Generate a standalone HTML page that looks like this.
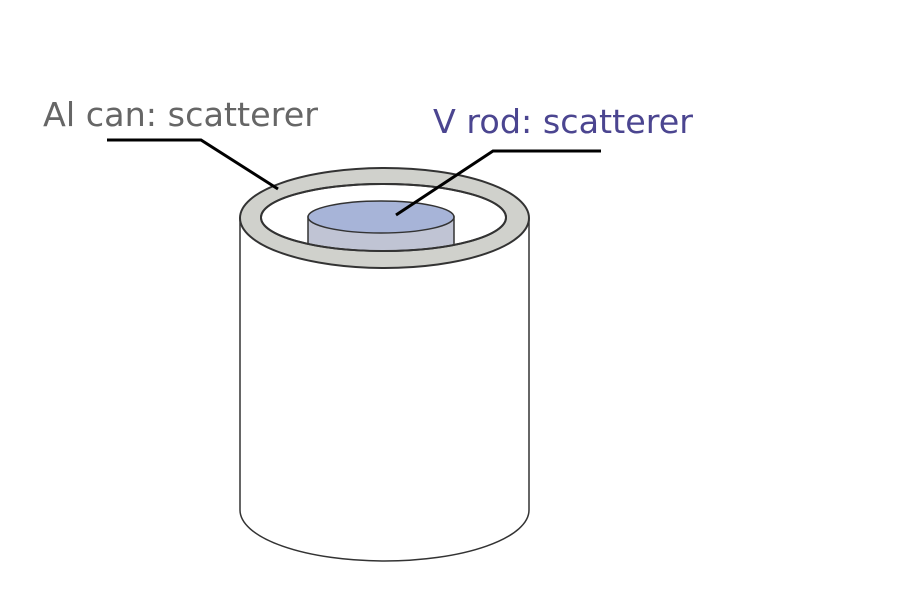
<!DOCTYPE html>
<html><head><meta charset="utf-8"><style>
html,body{margin:0;padding:0;background:#fff;width:900px;height:600px;overflow:hidden}
</style></head><body>
<svg width="900" height="600" viewBox="0 0 900 600">
  <g>
    <path d="M240,218 L240,510 A144.5,51 0 0 0 529,510 L529,218" fill="#fff" stroke="#333" stroke-width="1.5"/>
    <ellipse cx="384.5" cy="218" rx="144.5" ry="50" fill="#d0d1cc" stroke="#333" stroke-width="2"/>
    <ellipse cx="383.5" cy="217.5" rx="122.5" ry="33.5" fill="#fff" stroke="#333" stroke-width="2"/>
  </g>
  <g>
    <clipPath id="inner"><ellipse cx="383.5" cy="217.5" rx="121.5" ry="32.5"/></clipPath>
    <g clip-path="url(#inner)">
      <path d="M308,217 L308,260 L454,260 L454,217 Z" fill="#c0c4d4" stroke="#333" stroke-width="1.5"/>
    </g>
    <ellipse cx="383.5" cy="217.5" rx="122.5" ry="33.5" fill="none" stroke="#333" stroke-width="2"/>
    <ellipse cx="381" cy="217" rx="73" ry="16" fill="#a7b4d8" stroke="#333" stroke-width="1.5"/>
  </g>
  <polyline points="107,140 201,140 278,189" fill="none" stroke="#000" stroke-width="3"/>
  <polyline points="601,151 493,151 396,215" fill="none" stroke="#000" stroke-width="3"/>
  <text x="43" y="126" font-family="DejaVu Sans, sans-serif" font-size="33" textLength="275" lengthAdjust="spacingAndGlyphs" fill="#666">Al can: scatterer</text>
  <text x="433" y="133" font-family="DejaVu Sans, sans-serif" font-size="33" textLength="260" lengthAdjust="spacingAndGlyphs" fill="#4b4590">V rod: scatterer</text>
</svg>
</body></html>
